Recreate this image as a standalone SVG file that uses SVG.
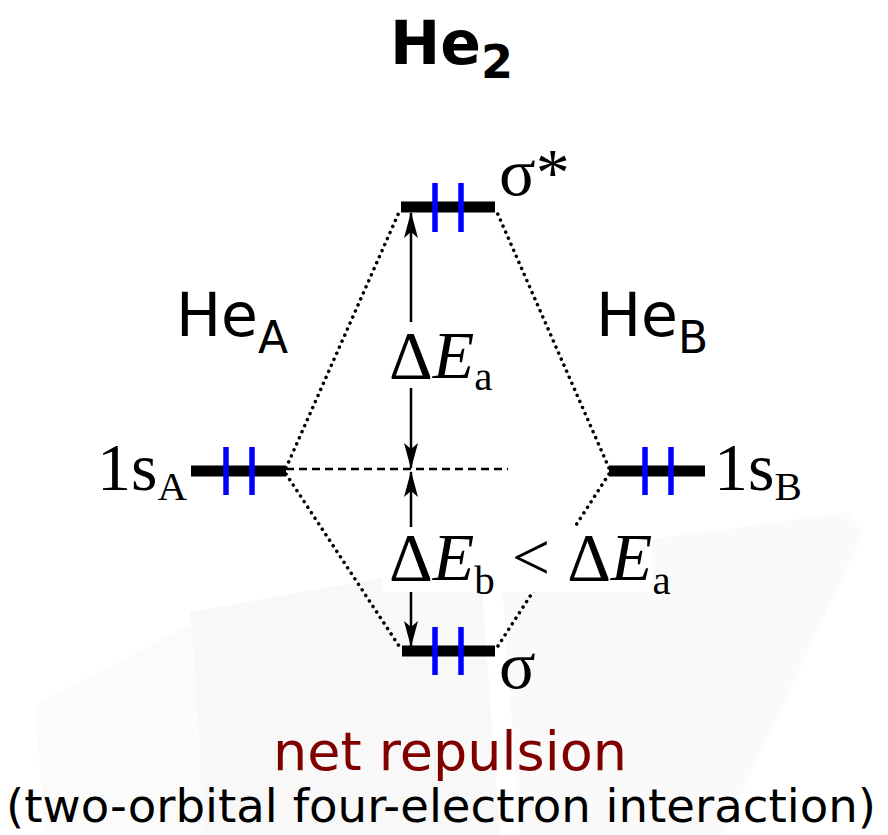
<svg xmlns="http://www.w3.org/2000/svg" width="888" height="835" viewBox="0 0 888 835">
<defs>
<style>
.bg{fill:#f8f8f8}
.level{stroke:#000;stroke-width:11;fill:none}
.spin{stroke:#0000ff;stroke-width:5.5}
.dot{stroke:#000;stroke-width:3.5;stroke-dasharray:0.1 6.5;stroke-linecap:round;fill:none}
.dash{stroke:#000;stroke-width:2.5;stroke-dasharray:8 5;fill:none}
.arr{stroke:#000;stroke-width:2.5;fill:none}
.serif{font-family:"Liberation Serif","Times New Roman",serif;font-size:68px;fill:#000}
.sans{font-family:"DejaVu Sans",sans-serif;fill:#000}
.sub{font-size:41px}
</style>
<marker id="ah" viewBox="0 0 26 14" refX="25" refY="7" markerWidth="26" markerHeight="14" markerUnits="userSpaceOnUse" orient="auto">
<path d="M0,0 L26,7 L0,14 L6,7 Z" fill="#000"/>
</marker>
</defs>
<rect width="888" height="835" fill="#fff"/>
<g id="watermark">
<polygon class="bg" points="190,612 480,560 500,835 205,835"/>
<polygon class="bg" points="500,560 850,512 862,535 722,835 520,835" fill-opacity="0.7"/>
<polygon class="bg" points="35,705 190,625 205,835 45,835" fill-opacity="0.5"/>
</g>
<g id="title"><text class="sans" x="390" y="64" font-size="60" font-weight="bold">He<tspan font-size="46" dy="14">2</tspan></text></g>
<g id="connectors">
<line class="dot" x1="286" y1="468" x2="400" y2="210"/>
<line class="dot" x1="286" y1="474" x2="401" y2="649"/>
<line class="dot" x1="609" y1="468" x2="496" y2="210"/>
<line class="dot" x1="609" y1="474" x2="496" y2="649"/>
<line class="dash" x1="286" y1="469" x2="508" y2="469"/>
<line class="arr" x1="411" y1="322" x2="411" y2="213" marker-end="url(#ah)"/>
<line class="arr" x1="411" y1="388" x2="411" y2="468" marker-end="url(#ah)"/>
<line class="arr" x1="411" y1="530" x2="411" y2="472" marker-end="url(#ah)"/>
<line class="arr" x1="411" y1="590" x2="411" y2="646" marker-end="url(#ah)"/>
</g>
<g id="sigma-star">
<line class="level" x1="401" y1="207" x2="495" y2="207"/>
<line class="spin" x1="435" y1="183" x2="435" y2="232"/>
<line class="spin" x1="461" y1="183" x2="461" y2="232"/>
<text class="serif" x="499" y="195">σ*</text>
</g>
<g id="sigma">
<line class="level" x1="402" y1="651" x2="495" y2="651"/>
<line class="spin" x1="435" y1="627" x2="435" y2="675"/>
<line class="spin" x1="461" y1="627" x2="461" y2="675"/>
<text class="serif" x="499" y="688">σ</text>
</g>
<g id="orbital-1sA">
<line class="level" x1="191" y1="471" x2="286" y2="471"/>
<line class="spin" x1="226" y1="447" x2="226" y2="495"/>
<line class="spin" x1="252" y1="447" x2="252" y2="495"/>
<text class="serif" x="97" y="490">1s<tspan class="sub" dy="10">A</tspan></text>
</g>
<g id="orbital-1sB">
<line class="level" x1="609" y1="471" x2="705" y2="471"/>
<line class="spin" x1="645" y1="447" x2="645" y2="495"/>
<line class="spin" x1="671" y1="447" x2="671" y2="495"/>
<text class="serif" x="714" y="490">1s<tspan class="sub" dy="10">B</tspan></text>
</g>
<g id="label-HeA"><text class="sans" x="176" y="336" font-size="60">He<tspan font-size="44" dy="17">A</tspan></text></g>
<g id="label-HeB"><text class="sans" x="596" y="336" font-size="60">He<tspan font-size="44" dy="17">B</tspan></text></g>
<g id="label-dEa">
<rect x="386" y="325" width="112" height="60" fill="#fff"/>
<text class="serif" x="389" y="378">Δ<tspan font-style="italic">E</tspan><tspan class="sub" dy="12">a</tspan></text>
</g>
<g id="label-dEb">
<rect x="382" y="527" width="270" height="65" fill="#fff"/>
<text class="serif" x="389" y="580">Δ<tspan font-style="italic">E</tspan><tspan class="sub" dy="14">b</tspan><tspan dy="-14"> &lt; Δ</tspan><tspan font-style="italic">E</tspan><tspan class="sub" dy="14">a</tspan></text>
</g>
<g id="caption">
<text class="sans" x="450" y="770" font-size="54" text-anchor="middle" style="fill:#800000">net repulsion</text>
<text class="sans" x="6" y="822" font-size="46" textLength="870" lengthAdjust="spacingAndGlyphs">(two-orbital four-electron interaction)</text>
</g>
</svg>
